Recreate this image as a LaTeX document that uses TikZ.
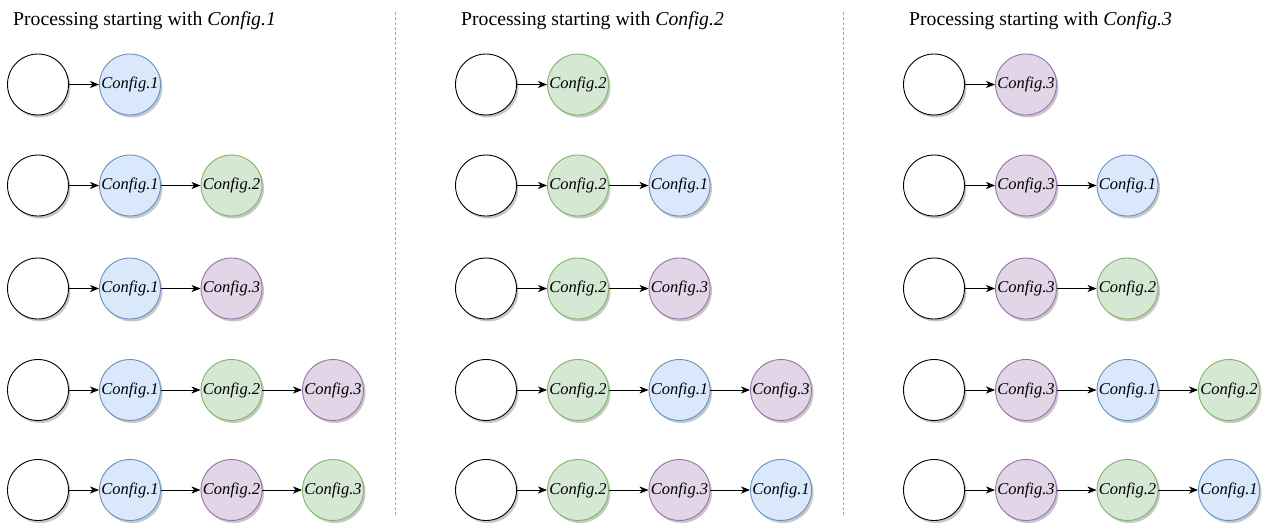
\documentclass[tikz,border=0pt]{standalone}
\usepackage{fontspec}
\setmainfont{Liberation Serif}[ItalicFont={Liberation Serif Italic}]
\usetikzlibrary{arrows.meta,shadows}
\definecolor{bfill}{HTML}{DAE8FC}\definecolor{bline}{HTML}{6C8EBF}
\definecolor{gfill}{HTML}{D5E8D4}\definecolor{gline}{HTML}{82B366}
\definecolor{pfill}{HTML}{E1D5E7}\definecolor{pline}{HTML}{9673A6}
\tikzset{
  circ/.style={circle, minimum size=61pt, inner sep=0pt, line width=0.9pt,
    font=\fontsize{16.5}{18}\selectfont\itshape,
    drop shadow={shadow xshift=2pt, shadow yshift=-2.5pt, opacity=0.22, fill=black}},
  emptyc/.style={circ, draw=black, fill=white},
  cb/.style={circ, draw=bline, fill=bfill},
  cg/.style={circ, draw=gline, fill=gfill},
  cp/.style={circ, draw=pline, fill=pfill},
  conn/.style={draw=black, line width=0.9pt, -{Stealth[length=9pt,width=7pt,inset=2.5pt]}},
  title/.style={anchor=base west, inner sep=0pt, font=\fontsize{19.7}{23}\selectfont},
  sep/.style={draw=gray!70, line width=0.9pt, dash pattern=on 3pt off 2pt}
}
\newcommand\mkrow[4]{%
  \node[emptyc] (#1-0) at (#2+38,#3) {};
  \foreach \s/\l [count=\i] in {#4} {
    \pgfmathtruncatemacro\j{\i-1}
    \node[\s] (#1-\i) at ({#2+130+101.5*(\i-1)},#3) {Config.\l};
    \draw[conn] (#1-\j) -- (#1-\i);
  }%
}
\begin{document}
\begin{tikzpicture}[x=1pt,y=-1pt]
\useasboundingbox (0,0) rectangle (1269,527);
% titles
\node[title] (t1) at (13,25.5) {Processing starting with \textit{Config.1}};
\node[title] (t2) at (461,25.5) {Processing starting with \textit{Config.2}};
\node[title] (t3) at (909,25.5) {Processing starting with \textit{Config.3}};
% separators
\coordinate (s1a) at (395,12); \coordinate (s1b) at (395,515);
\coordinate (s2a) at (843,12); \coordinate (s2b) at (843,515);
\draw[sep] (s1a) -- (s1b);
\draw[sep] (s2a) -- (s2b);
% column 1
\mkrow{a1}{0}{84.5}{cb/1}
\mkrow{a2}{0}{185.5}{cb/1, cg/2}
\mkrow{a3}{0}{288.5}{cb/1, cp/3}
\mkrow{a4}{0}{390}{cb/1, cg/2, cp/3}
\mkrow{a5}{0}{490}{cb/1, cp/2, cg/3}
% column 2
\mkrow{b1}{448}{84.5}{cg/2}
\mkrow{b2}{448}{185.5}{cg/2, cb/1}
\mkrow{b3}{448}{288.5}{cg/2, cp/3}
\mkrow{b4}{448}{390}{cg/2, cb/1, cp/3}
\mkrow{b5}{448}{490}{cg/2, cp/3, cb/1}
% column 3
\mkrow{c1}{896}{84.5}{cp/3}
\mkrow{c2}{896}{185.5}{cp/3, cb/1}
\mkrow{c3}{896}{288.5}{cp/3, cg/2}
\mkrow{c4}{896}{390}{cp/3, cb/1, cg/2}
\mkrow{c5}{896}{490}{cp/3, cg/2, cb/1}
\end{tikzpicture}
\end{document}
